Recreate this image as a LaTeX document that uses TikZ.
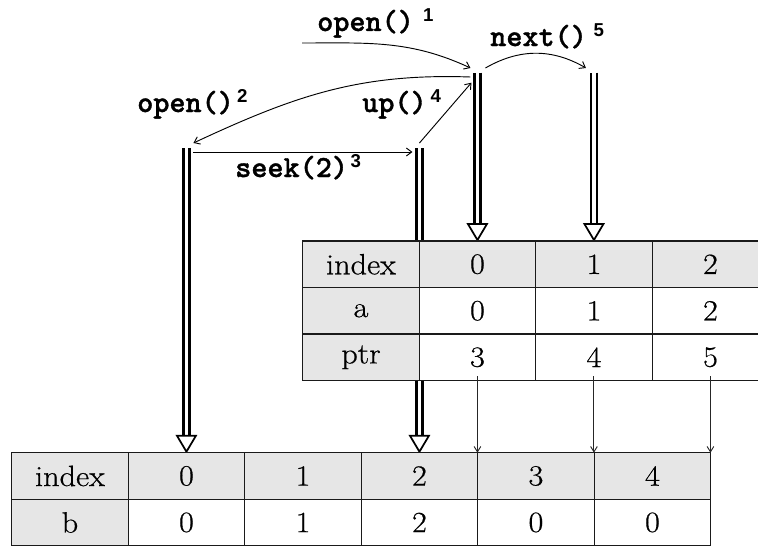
\documentclass[tikz,border=0pt]{standalone}
\usepackage{fontspec}
\setmainfont{Latin Modern Roman}[FakeStretch=1.1, FakeBold=0.6]
\newfontfamily\codefont{lmmonolt10-bold}[Extension=.otf, FakeBold=1.2]
\newfontfamily\supfont{Liberation Sans}
\usetikzlibrary{calc,arrows.meta,backgrounds}

\definecolor{cellgray}{HTML}{E6E6E6}
\definecolor{rulecol}{HTML}{1A1A1A}

% call label: bold typewriter name with a bold sans step number
\newcommand\calllabel[3]{{\codefont\fontsize{23}{23}\selectfont #1}\hspace{#3}\raisebox{7pt}{\supfont\bfseries\fontsize{14}{14}\selectfont #2}}

\begin{document}
\begin{tikzpicture}[x=0.75pt, y=-0.75pt,
  cell/.style={draw=rulecol, line width=0.8pt, minimum width=87.375pt,
    minimum height=34.875pt, inner sep=0pt, outer sep=0pt, anchor=north west,
    font=\fontsize{22}{22}\selectfont},
  hd/.style={cell, fill=cellgray},
  bd/.style={cell, fill=white},
  dblline/.style={draw=black, line width=1.7pt, double=white, double distance=2.8pt},
  hollowtip/.style={draw=black, line width=1.3pt, fill=white, line join=miter},
  call/.style={draw=black, line width=0.7pt, -{Straight Barb[length=4pt,width=6pt]}},
  ptrarrow/.style={draw=black!85, line width=0.7pt, -{Straight Barb[length=4pt,width=5pt]}},
  lbl/.style={inner sep=0pt, anchor=base west}]

\useasboundingbox (0,0) rectangle (758,546);

% table a (index / a / ptr)
\foreach \col/\t in {0/index,1/0,2/1,3/2}
  \node[hd] (u-0-\col) at ({302.7+116.5*\col},241) {\t};
\foreach \col/\t/\s in {0/a/hd,1/0/bd,2/1/bd,3/2/bd}
  \node[\s] (u-1-\col) at ({302.7+116.5*\col},287.5) {\t};
\foreach \col/\t/\s in {0/ptr/hd,1/3/bd,2/4/bd,3/5/bd}
  \node[\s] (u-2-\col) at ({302.7+116.5*\col},334) {\t};

% table b (index / b)
\foreach \col/\t in {0/index,1/0,2/1,3/2,4/3,5/4}
  \node[hd] (l-0-\col) at ({11.7+116.5*\col},452.7) {\t};
\foreach \col/\t/\s in {0/b/hd,1/0/bd,2/1/bd,3/2/bd,4/0/bd,5/0/bd}
  \node[\s] (l-1-\col) at ({11.7+116.5*\col},499.2) {\t};

% tops of the cursor shafts
\coordinate (ta) at (l-0-1.north |- 0,148);
\coordinate (tb) at (l-0-3.north |- 0,148);
\coordinate (tc) at (u-0-1.north |- 0,72.7);
\coordinate (td) at (u-0-2.north |- 0,72.7);

% hollow cursor arrows, behind the tables
\begin{scope}[on background layer]
  \foreach \dtop/\dtip in {ta/l-0-1, tb/l-0-3, tc/u-0-1, td/u-0-2} {
    \draw[dblline] (\dtop) -- ($(\dtip.north)+(0,-16)$);
    \draw[hollowtip] ($(\dtip.north)+(-9.5,-17)$) -- ($(\dtip.north)+(0,-1)$)
      -- ($(\dtip.north)+(9.5,-17)$) -- cycle;
  }
\end{scope}

% ptr links from table a into table b
\coordinate (p1) at ($(u-2-1.south)+(0,-4.5)$);
\coordinate (p2) at ($(u-2-2.south)+(0,-4.5)$);
\coordinate (p3) at ($(u-2-3.south)+(0,-4.5)$);
\draw[ptrarrow] (p1) -- (p1 |- l-0-4.north);
\draw[ptrarrow] (p2) -- (p2 |- l-0-5.north);
\draw[ptrarrow] (p3) -- (p3 |- l-0-5.north);

% cursor calls
\coordinate (s1) at (302,43);
\draw[call] (s1) to[out=0,in=155] ($(tc)+(-7,-4.7)$);
\draw[call] ($(tc)+(8,-4.7)$) to[bend left=30] ($(td)+(-8,-4.7)$);
\draw[call] ($(tc)+(-7,4.3)$) to[out=178,in=25] ($(ta)+(7,-5)$);
\draw[call] ($(ta)+(7,4)$) -- ($(tb)+(-7,4)$);
\draw[call] ($(tb)+(0,-5)$) -- ($(tc)+(-6,10)$);

\node[lbl] (l-open1) at (317,31)  {\calllabel{open()}{1}{7pt}};
\node[lbl] (l-next)  at (490,46)  {\calllabel{next()}{5}{5pt}};
\node[lbl] (l-open2) at (137,112) {\calllabel{open()}{2}{2.5pt}};
\node[lbl] (l-up)    at (362,112) {\calllabel{up()}{4}{3pt}};
\node[lbl] (l-seek)  at (235,177) {\calllabel{seek(2)}{3}{2pt}};
\end{tikzpicture}
\end{document}
